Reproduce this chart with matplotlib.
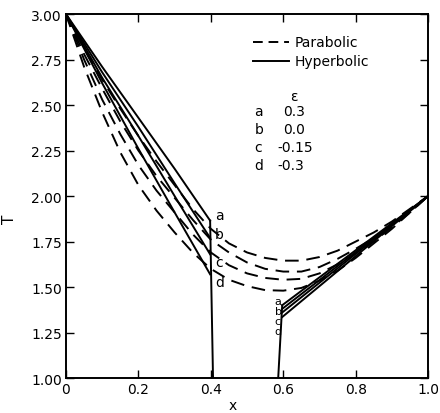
import matplotlib
matplotlib.use("Agg")
import matplotlib.pyplot as plt
import numpy as np

# Parabolic (dashed) curves, x from 0 to 1
xp = [0.0, 0.05, 0.1, 0.15, 0.2, 0.25, 0.3, 0.35, 0.4, 0.45, 0.5, 0.55, 0.6,
      0.65, 0.7, 0.75, 0.8, 0.85, 0.9, 0.95, 1.0]
par_a = [3.0, 2.81, 2.64, 2.48, 2.33, 2.19, 2.06, 1.93, 1.82, 1.74, 1.69, 1.66, 1.645,
         1.645, 1.665, 1.70, 1.75, 1.80, 1.86, 1.93, 2.0]
par_b = [3.0, 2.78, 2.59, 2.41, 2.25, 2.11, 1.99, 1.87, 1.76, 1.69, 1.635, 1.60, 1.585,
         1.585, 1.61, 1.655, 1.71, 1.77, 1.84, 1.92, 2.0]
par_c = [3.0, 2.75, 2.53, 2.34, 2.17, 2.03, 1.91, 1.79, 1.69, 1.62, 1.575, 1.55, 1.54,
         1.545, 1.575, 1.625, 1.685, 1.75, 1.83, 1.91, 2.0]
par_d = [3.0, 2.71, 2.46, 2.24, 2.06, 1.92, 1.80, 1.69, 1.60, 1.54, 1.505, 1.483, 1.48,
         1.495, 1.535, 1.59, 1.66, 1.74, 1.82, 1.91, 2.0]

# Hyperbolic (solid) curves: left branch x 0..0.4, right branch x 0.597..1
xh_left = [0.0, 0.1, 0.2, 0.3, 0.398]
hyp_left_a = [3.0, 2.71, 2.43, 2.15, 1.865]
hyp_left_b = [3.0, 2.68, 2.38, 2.07, 1.77]
hyp_left_c = [3.0, 2.65, 2.33, 2.00, 1.68]
hyp_left_d = [3.0, 2.62, 2.26, 1.91, 1.57]
xh_right = [0.597, 1.0]
hyp_right_a = [1.40, 2.0]
hyp_right_b = [1.38, 2.0]
hyp_right_c = [1.36, 2.0]
hyp_right_d = [1.335, 2.0]
# vertical boundary lines
vleft_x = [0.398, 0.406]
vleft_T = [1.865, 1.0]
vright_x = [0.586, 0.597]
vright_T = [1.0, 1.40]

labels = ["a", "b", "c", "d"]
eps_vals = ["0.3", "0.0", "-0.15", "-0.3"]
left_label_T = [1.895, 1.79, 1.637, 1.527]
right_label_T = [1.426, 1.37, 1.315, 1.258]

fig = plt.figure(figsize=(4.4, 4.14), dpi=100)
ax = fig.add_axes([0.15, 0.0845, 0.823, 0.879])

lw = 1.4
dash = (0, (7, 4))
for T in [par_a, par_b, par_c, par_d]:
    ax.plot(xp, T, color="black", lw=lw, linestyle=dash)
for T in [hyp_left_a, hyp_left_b, hyp_left_c, hyp_left_d]:
    ax.plot(xh_left, T, color="black", lw=lw)
for T in [hyp_right_a, hyp_right_b, hyp_right_c, hyp_right_d]:
    ax.plot(xh_right, T, color="black", lw=lw)
ax.plot(vleft_x, vleft_T, color="black", lw=lw)
ax.plot(vright_x, vright_T, color="black", lw=lw)

fs = 10
for lab, T in zip(labels, left_label_T):
    ax.text(0.411, T, lab, fontsize=fs, ha="left", va="center")
for lab, T in zip(labels, right_label_T):
    ax.text(0.576, T, lab, fontsize=8, ha="left", va="center")

# legend
ax.plot([0.516, 0.616], [2.845, 2.845], color="black", lw=lw, linestyle=(0, (5, 3)))
ax.plot([0.516, 0.616], [2.74, 2.74], color="black", lw=lw)
ax.text(0.63, 2.845, "Parabolic", fontsize=fs, ha="left", va="center")
ax.text(0.63, 2.74, "Hyperbolic", fontsize=fs, ha="left", va="center")
ax.text(0.63, 2.55, "\u03b5", fontsize=fs, ha="center", va="center")
rowT = [2.465, 2.37, 2.27, 2.17]
for lab, v, T in zip(labels, eps_vals, rowT):
    ax.text(0.52, T, lab, fontsize=fs, ha="left", va="center")
    xv = 0.585 if v.startswith("-") else 0.6
    ax.text(xv, T, v, fontsize=fs, ha="left", va="center")

ax.set_xlim(0, 1.0)
ax.set_ylim(1.0, 3.0)
ax.set_xticks([0, 0.2, 0.4, 0.6, 0.8, 1.0])
ax.set_xticklabels(["0", "0.2", "0.4", "0.6", "0.8", "1.0"])
ax.set_yticks([1.0, 1.25, 1.5, 1.75, 2.0, 2.25, 2.5, 2.75, 3.0])
ax.set_yticklabels(["1.00", "1.25", "1.50", "1.75", "2.00", "2.25", "2.50", "2.75", "3.00"])
ax.tick_params(direction="in", top=True, right=True, length=6, width=1.0,
               labelsize=fs, pad=3)
for s in ax.spines.values():
    s.set_linewidth(1.4)
ax.set_xlabel("x", fontsize=fs)
ax.set_ylabel("T", fontsize=fs + 1, rotation=90)
ax.xaxis.set_label_coords(0.46, -0.055)
ax.yaxis.set_label_coords(-0.135, 0.44)

fig.savefig("out.png", dpi=100)
